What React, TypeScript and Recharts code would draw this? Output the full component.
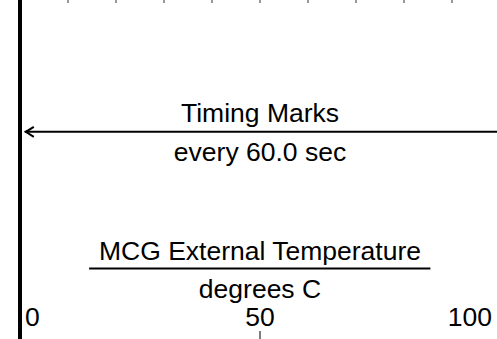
import { ComposedChart, XAxis, YAxis, ReferenceLine, ReferenceDot } from 'recharts';

const FONT = '"Liberation Sans", Arial, Helvetica, sans-serif';
const FONT_SIZE = 26.5;

// temperature scale, degrees C
const scaleTicks = [0, 50, 100];
// timing marks along the top edge
const timingTicks = [10, 20, 30, 40, 50, 60, 70, 80, 90];

// header annotations (x in degrees, y in % of track height from top)
const headerTexts = ['Timing Marks', 'every 60.0 sec', 'MCG External Temperature', 'degrees C'];
const headerX = [50, 50, 50, 50];
const headerY = [33.2, 44.6, 73.9, 85.0];

const timingArrow = [
  { x: 1, y: 38.9 },
  { x: 100, y: 38.9 },
];
const titleRule = [
  { x: 14.4, y: 79.2 },
  { x: 85.5, y: 79.2 },
];

const trackData = scaleTicks.map((v) => ({ temp: v, depth: 50 }));

/**
 * Short tick hanging down from the top edge
 */
function TimingTick({ x, y }: any) {
  return <line x1={x} x2={x} y1={y} y2={y + 3} stroke="#333" strokeWidth={1} />;
}

/**
 * Scale label sitting above the bottom edge, first/last pushed inward
 */
function ScaleTick({ x, y, payload }: any) {
  const v = payload.value;
  let anchor: 'start' | 'middle' | 'end' = 'middle';
  let dx = 0;
  if (v === scaleTicks[0]) {
    anchor = 'start';
    dx = 5;
  } else if (v === scaleTicks[scaleTicks.length - 1]) {
    anchor = 'end';
    dx = -8;
  }
  return (
    <g>
      <line x1={x} x2={x} y1={y - 8} y2={y} stroke="#000" strokeWidth={1} />
      <text x={x + dx} y={y - 13} textAnchor={anchor} fontSize={FONT_SIZE} fontFamily={FONT} fill="#000">
        {v}
      </text>
    </g>
  );
}

function ArrowShape(props: any) {
  const { x1, y1, x2, y2 } = props;
  return (
    <g>
      <line x1={x1} y1={y1} x2={x2} y2={y2} stroke="#000" strokeWidth={2} />
      <polyline
        points={`${x1 + 9},${y1 - 5} ${x1 + 1},${y1} ${x1 + 9},${y1 + 5}`}
        fill="none"
        stroke="#000"
        strokeWidth={2}
      />
    </g>
  );
}

export default function App() {
  return (
    <div style={{ position: 'absolute', left: 0, top: 0, width: 497, height: 339, overflow: 'hidden', background: '#fff' }}>
      <ComposedChart width={500} height={339} data={trackData} margin={{ top: -1, right: 0, bottom: -1, left: 20 }}>
        <XAxis
          xAxisId="top"
          orientation="top"
          dataKey="temp"
          type="number"
          domain={[0, 100]}
          ticks={timingTicks}
          interval={0}
          height={1}
          tickSize={0}
          tickMargin={0}
          axisLine={false}
          tickLine={false}
          tick={<TimingTick />}
        />
        <XAxis
          xAxisId="scale"
          orientation="bottom"
          dataKey="temp"
          type="number"
          domain={[0, 100]}
          ticks={scaleTicks}
          interval={0}
          height={1}
          tickSize={0}
          tickMargin={0}
          axisLine={false}
          tickLine={false}
          tick={<ScaleTick />}
        />
        <YAxis dataKey="depth" type="number" domain={[0, 100]} reversed hide />
        <ReferenceLine xAxisId="scale" x={0} stroke="#000" strokeWidth={4} />
        <ReferenceLine xAxisId="scale" segment={timingArrow} shape={ArrowShape} />
        <ReferenceLine xAxisId="scale" segment={titleRule} stroke="#000" strokeWidth={2} />
        {headerTexts.map((t, i) => (
          <ReferenceDot
            key={t}
            xAxisId="scale"
            x={headerX[i]}
            y={headerY[i]}
            r={0}
            fill="none"
            stroke="none"
            label={{ value: t, position: 'center', fontSize: FONT_SIZE, fill: '#000', fontFamily: FONT }}
          />
        ))}
      </ComposedChart>
    </div>
  );
}
